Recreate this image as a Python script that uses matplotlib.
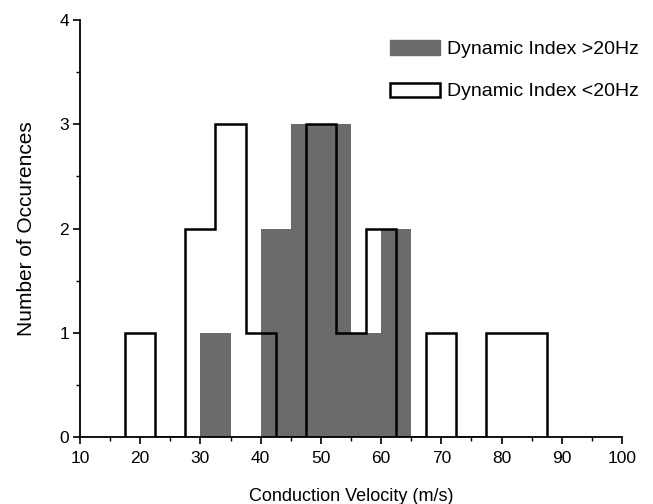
import matplotlib
matplotlib.use('Agg')
import matplotlib.pyplot as plt
import matplotlib.patches as mpatches
from matplotlib.ticker import MultipleLocator
import numpy as np

plt.rcParams['font.family'] = ['Liberation Sans', 'DejaVu Sans']

# Dynamic Index >20Hz (filled grey bars, width 5)
high_edges = [30, 35, 40, 45, 50, 55, 60, 65]
high_counts = [1, 0, 2, 3, 3, 1, 2]

# Dynamic Index <20Hz (open step outline, width 5)
low_edges = [17.5, 22.5, 27.5, 32.5, 37.5, 42.5, 47.5, 52.5, 57.5, 62.5, 67.5, 72.5, 77.5, 82.5, 87.5]
low_counts = [1, 0, 2, 3, 1, 0, 3, 1, 2, 0, 1, 0, 1, 1]

grey = '#6b6b6b'

fig = plt.figure(figsize=(6.53, 5.04), dpi=100)
ax = fig.add_axes([0.1225, 0.133, 0.83, 0.827])

ax.stairs(high_counts, high_edges, fill=True, color=grey, linewidth=0)
ax.stairs(low_counts, low_edges, baseline=0, color='black', linewidth=1.8)

ax.set_xlim(10, 100)
ax.set_ylim(0, 4)
ax.xaxis.set_major_locator(MultipleLocator(10))
ax.xaxis.set_minor_locator(MultipleLocator(5))
ax.yaxis.set_major_locator(MultipleLocator(1))
ax.yaxis.set_minor_locator(MultipleLocator(0.5))

for s in ['top', 'right']:
    ax.spines[s].set_visible(False)
for s in ['left', 'bottom']:
    ax.spines[s].set_linewidth(1.3)
ax.tick_params(which='major', direction='out', length=5, width=1.2, labelsize=12.5, pad=3)
ax.tick_params(axis='x', which='major', pad=5)
ax.tick_params(which='minor', direction='out', length=3, width=1.0)

ax.set_xlabel('Conduction Velocity (m/s)', fontsize=13, labelpad=16)
ax.set_ylabel('Number of Occurences', fontsize=15, labelpad=17)

h1 = mpatches.Patch(facecolor=grey, edgecolor=grey, label='Dynamic Index >20Hz')
h2 = mpatches.Patch(facecolor='white', edgecolor='black', linewidth=1.8, label='Dynamic Index <20Hz')
ax.legend(handles=[h1, h2], loc='upper left', bbox_to_anchor=(0.597, 0.92), bbox_transform=fig.transFigure,
          frameon=False, fontsize=14, handlelength=2.6, handleheight=0.75, labelspacing=1.25,
          handletextpad=0.35, borderpad=0, borderaxespad=0)

fig.savefig('out.png', dpi=100)
